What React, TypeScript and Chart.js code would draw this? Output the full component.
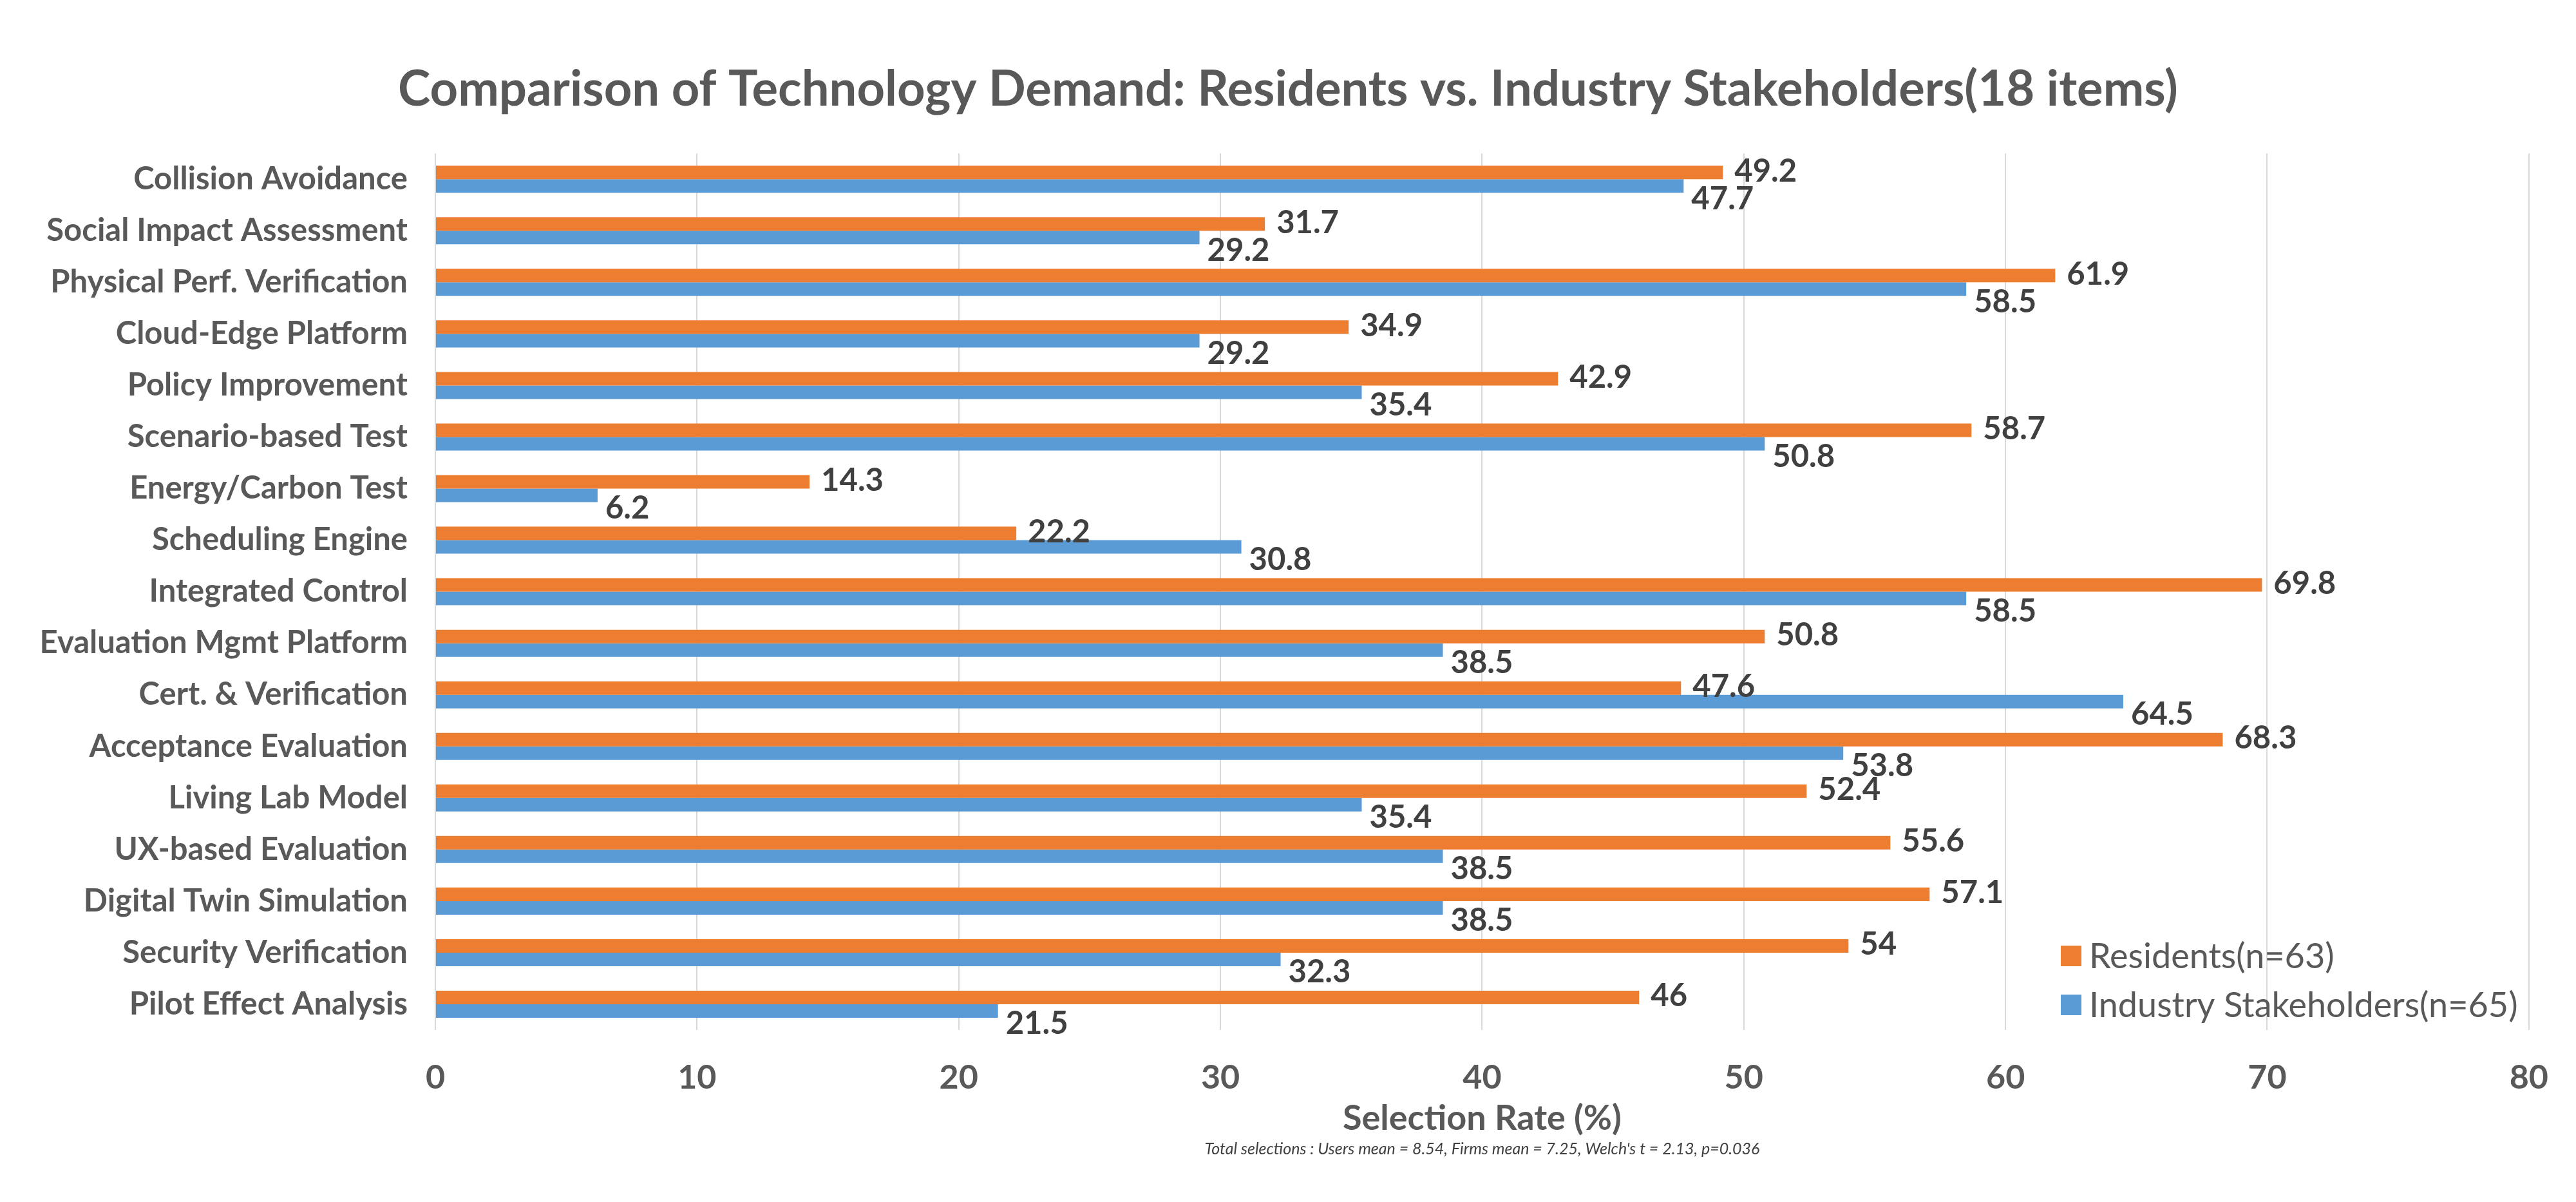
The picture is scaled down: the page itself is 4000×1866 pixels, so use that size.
import React, { useEffect, useRef } from 'react';
import { Chart, registerables } from 'chart.js';

Chart.register(...registerables);

const categories = [
  'Collision Avoidance',
  'Social Impact Assessment',
  'Physical Perf. Verification',
  'Cloud-Edge Platform',
  'Policy Improvement',
  'Scenario-based Test',
  'Energy/Carbon Test',
  'Scheduling Engine',
  'Integrated Control',
  'Evaluation Mgmt Platform',
  'Cert. & Verification',
  'Acceptance Evaluation',
  'Living Lab Model',
  'UX-based Evaluation',
  'Digital Twin Simulation',
  'Security Verification',
  'Pilot Effect Analysis',
];

const residents = [49.2, 31.7, 61.9, 34.9, 42.9, 58.7, 14.3, 22.2, 69.8, 50.8, 47.6, 68.3, 52.4, 55.6, 57.1, 54, 46];
const industry = [47.7, 29.2, 58.5, 29.2, 35.4, 50.8, 6.2, 30.8, 58.5, 38.5, 64.5, 53.8, 35.4, 38.5, 38.5, 32.3, 21.5];

const seriesNames = ['Residents(n=63)', 'Industry Stakeholders(n=65)'];
const seriesColors = ['#ED7D31', '#5B9BD5'];

const title = 'Comparison of Technology Demand: Residents vs. Industry Stakeholders(18 items)';
const axisTitle = 'Selection Rate (%)';
const footnote = "Total selections : Users mean = 8.54, Firms mean = 7.25, Welch's t = 2.13, p=0.036";

const FONT = 'Lato, "Open Sans", sans-serif';

// value labels next to bar ends, the legend over the plot, and the footnote
const extrasPlugin = {
  id: 'extras',
  afterDatasetsDraw(chart: any) {
    const { ctx, chartArea } = chart;
    ctx.save();
    ctx.font = `bold 49px ${FONT}`;
    ctx.fillStyle = '#404040';
    ctx.textAlign = 'left';
    ctx.textBaseline = 'middle';
    chart.data.datasets.forEach((ds: any, di: number) => {
      const meta = chart.getDatasetMeta(di);
      meta.data.forEach((bar: any, i: number) => {
        const dy = di === 0 ? -2 : 20;
        const dx = di === 0 ? 18 : 12;
        ctx.fillText(String(ds.data[i]), bar.x + dx, bar.y + dy);
      });
    });

    // legend
    const lx = 3200;
    const ly = [1484, 1560];
    ctx.font = `54px ${FONT}`;
    seriesNames.forEach((name, i) => {
      ctx.fillStyle = seriesColors[i];
      ctx.fillRect(lx, ly[i] - 16, 32, 32);
      ctx.fillStyle = '#595959';
      ctx.fillText(name, lx + 44, ly[i] + 2);
    });

    // footnote, centred under the plot
    ctx.font = `italic 25px ${FONT}`;
    ctx.fillStyle = '#404040';
    ctx.textAlign = 'center';
    ctx.fillText(footnote, (chartArea.left + chartArea.right) / 2, 1784);
    ctx.restore();
  },
};

const App = () => {
  const canvasRef = useRef<HTMLCanvasElement>(null);

  useEffect(() => {
    document.body.style.margin = '0';
    const canvas = canvasRef.current;
    let chart: Chart<'bar', number[], string> | null = null;

    if (canvas) {
      chart = new Chart(canvas, {
        type: 'bar',
        data: {
          labels: categories,
          datasets: [
            {
              label: seriesNames[0],
              data: residents,
              backgroundColor: seriesColors[0],
              categoryPercentage: 0.525,
              barPercentage: 1.0,
            },
            {
              label: seriesNames[1],
              data: industry,
              backgroundColor: seriesColors[1],
              categoryPercentage: 0.525,
              barPercentage: 1.0,
            },
          ],
        },
        options: {
          indexAxis: 'y',
          responsive: false,
          animation: false,
          devicePixelRatio: 1,
          layout: {
            padding: { left: 64, right: 64, top: 0, bottom: 0 },
          },
          plugins: {
            legend: { display: false },
            tooltip: { enabled: false },
            title: {
              display: true,
              text: title,
              color: '#595959',
              font: { family: FONT, size: 76, weight: 'bold', lineHeight: 1.2 },
              padding: { top: 94, bottom: 53 },
            },
          },
          scales: {
            x: {
              min: 0,
              max: 80,
              ticks: {
                stepSize: 10,
                color: '#595959',
                padding: 43,
                font: { family: FONT, size: 52, weight: 'bold', lineHeight: 1.2 },
              },
              grid: { color: '#d9d9d9', lineWidth: 2, drawTicks: false },
              border: { display: false },
              title: {
                display: true,
                text: axisTitle,
                color: '#595959',
                font: { family: FONT, size: 54, weight: 'bold', lineHeight: 1.2 },
                padding: { top: 0, bottom: 97 },
              },
              afterFit: (scale: any) => {
                scale.height = 267;
              },
            },
            y: {
              ticks: {
                color: '#595959',
                padding: 43,
                font: { family: FONT, size: 49, weight: 'bold' },
              },
              grid: { display: false, drawTicks: false },
              border: { display: false },
              afterFit: (scale: any) => {
                scale.width = 612;
              },
            },
          },
        },
        plugins: [extrasPlugin],
      });
    }

    return () => {
      if (chart) {
        chart.destroy();
      }
    };
  }, []);

  return (
    <div style={{ width: 4000, height: 1866, background: '#fff' }}>
      <canvas ref={canvasRef} width={4000} height={1866}></canvas>
    </div>
  );
};

export default App;
